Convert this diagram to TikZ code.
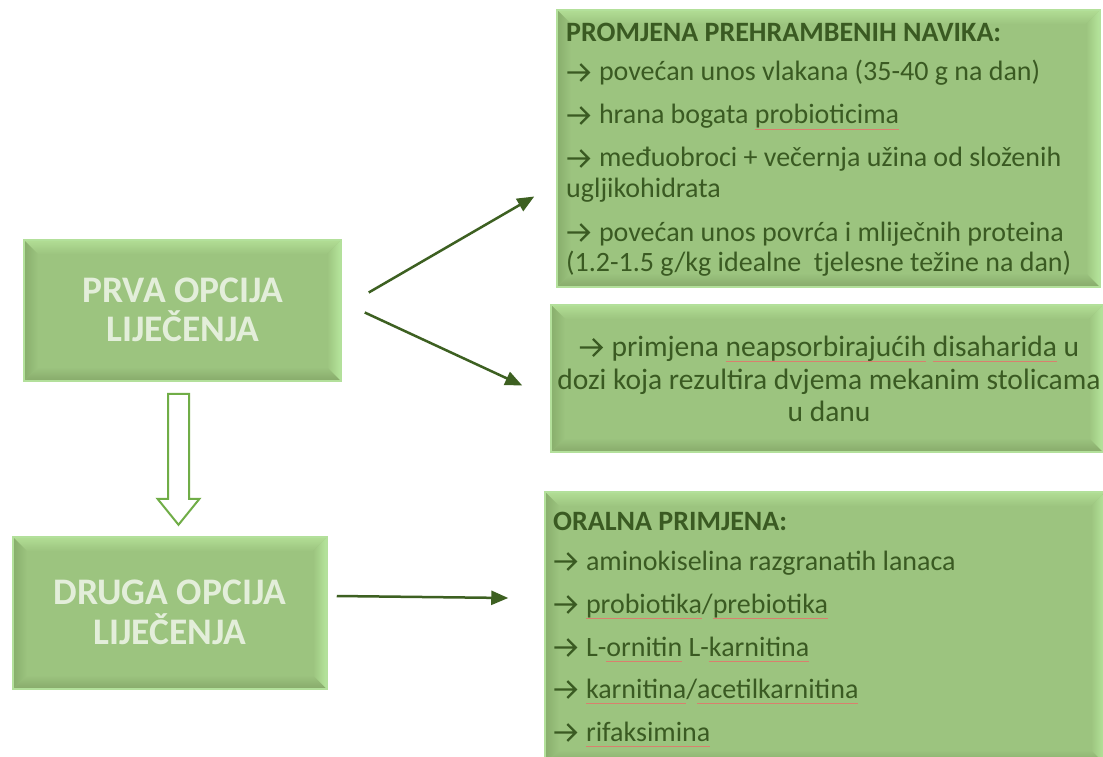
\documentclass[tikz,border=0pt]{standalone}
\usepackage{fontspec}
\setmainfont{Carlito}
\usetikzlibrary{arrows.meta,calc}
\definecolor{basec}{HTML}{9CC47F}
\definecolor{bevT}{HTML}{B2DE95}
\definecolor{bevL}{HTML}{88AE6C}
\definecolor{bevR}{HTML}{B6E69C}
\definecolor{bevB}{HTML}{87AA6A}
\definecolor{edgec}{HTML}{B3E09B}
\definecolor{txtc}{HTML}{3A5A22}
\definecolor{lighttxt}{HTML}{E3EEDA}
\definecolor{arrc}{HTML}{3D6021}
\definecolor{hollowc}{HTML}{70AD47}
\definecolor{splc}{HTML}{D9806E}
\newsavebox\splbox
\newcommand\ar{\tikz[baseline=0pt,x=1pt,y=1pt]{\draw[txtc,line width=2.3pt,line join=miter,line cap=butt] (0,8.5) -- (21.5,8.5) (13,17) -- (21.5,8.5) -- (13,0);}\hspace{9pt}}
\newcommand\spl[1]{\sbox\splbox{#1}\leavevmode\rlap{\textcolor{splc}{\rule[-0.2em]{\wd\splbox}{0.7pt}}}\usebox\splbox}
\begin{document}
\begin{tikzpicture}[x=1pt,y=-1pt,
  bevelbox/.style={draw=edgec, line width=1.5pt, fill=basec, inner sep=0pt,
    path picture={
      \path (path picture bounding box.south west) coordinate (@sw)
            (path picture bounding box.north east) coordinate (@ne)
            (@sw|-@ne) coordinate (@nw) (@ne|-@sw) coordinate (@se);
      \shade[top color=bevT, bottom color=basec] (@nw) -- (@ne) -- ([shift={(-14pt,-14pt)}]@ne) -- ([shift={(14pt,-14pt)}]@nw) -- cycle;
      \shade[bottom color=bevB, top color=basec] (@sw) -- (@se) -- ([shift={(-14pt,14pt)}]@se) -- ([shift={(14pt,14pt)}]@sw) -- cycle;
      \shade[left color=bevL, right color=basec] (@nw) -- (@sw) -- ([shift={(14pt,14pt)}]@sw) -- ([shift={(14pt,-14pt)}]@nw) -- cycle;
      \shade[right color=bevR, left color=basec] (@ne) -- (@se) -- ([shift={(-14pt,14pt)}]@se) -- ([shift={(-14pt,-14pt)}]@ne) -- cycle;
    }},
  rt/.style={anchor=base west, inner sep=0pt, text=txtc, font=\fontsize{28}{30}\selectfont},
  ct/.style={anchor=base, inner sep=0pt, text=txtc, font=\fontsize{29.5}{33}\selectfont},
  lt/.style={anchor=base, inner sep=0pt, text=lighttxt, font=\fontsize{37.5}{39}\selectfont\bfseries},
  conn/.style={draw=arrc, line width=2.5pt, -{Triangle[length=17pt,width=14pt]}},
  hollow/.style={draw=hollowc, line width=2pt, fill=white, line join=miter}
]
\useasboundingbox (0,0) rectangle (1103,757);
\fill[white] (0,0) rectangle (1103,757);

% boxes
\node[bevelbox, minimum width=317pt, minimum height=141pt] (prva) at (182.5,310.5) {};
\node[bevelbox, minimum width=314pt, minimum height=152pt] (druga) at (170,613) {};
\node[bevelbox, minimum width=543pt, minimum height=277pt] (top) at (828.5,148.5) {};
\node[bevelbox, minimum width=552pt, minimum height=147pt] (mid) at (827,378.5) {};
\node[bevelbox, minimum width=560pt, minimum height=272pt] (bot) at (825,628) {};

% left texts
\node[lt] (p1) at (183,302) {PRVA OPCIJA};
\node[lt] (p2) at (183,341) {LIJEČENJA};
\node[lt] (d1) at (170,604) {DRUGA OPCIJA};
\node[lt] (d2) at (170,644) {LIJEČENJA};

% top box text
\node[rt] (t0) at (566,42) {\bfseries PROMJENA PREHRAMBENIH NAVIKA:};
\node[rt] (t1) at (566,81) {\ar povećan unos vlakana (35-40 g na dan)};
\node[rt] (t2) at (566,124) {\ar hrana bogata \spl{probioticima}};
\node[rt] (t3) at (566,167) {\ar međuobroci + večernja užina od složenih};
\node[rt] (t4) at (566,197) {ugljikohidrata};
\node[rt] (t5) at (566,241) {\ar povećan unos povrća i mliječnih proteina};
\node[rt] (t6) at (566,271) {(1.2-1.5 g/kg idealne\ \ tjelesne težine na dan)};

% middle box text
\node[ct] (m1) at (829,356) {\ar primjena \spl{neapsorbirajućih} \spl{disaharida} u};
\node[ct] (m2) at (829,389) {dozi koja rezultira dvjema mekanim stolicama};
\node[ct] (m3) at (829,421) {u danu};

% bottom box text
\node[rt] (b0) at (553,530) {\bfseries ORALNA PRIMJENA:};
\node[rt] (b1) at (553,570) {\ar aminokiselina razgranatih lanaca};
\node[rt] (b2) at (553,613) {\ar \spl{probiotika}/\spl{prebiotika}};
\node[rt] (b3) at (553,656) {\ar L-\spl{ornitin} L-\spl{karnitina}};
\node[rt] (b4) at (553,698) {\ar \spl{karnitina}/\spl{acetilkarnitina}};
\node[rt] (b5) at (553,741) {\ar \spl{rifaksimina}};

% connectors
\coordinate (a1s) at ($(prva.east)+(27,-18)$);
\coordinate (a1e) at ($(top.west)+(-22,48)$);
\coordinate (a2s) at ($(prva.east)+(23,2)$);
\coordinate (a2e) at ($(mid.west)+(-28,7)$);
\coordinate (a3s) at ($(druga.east)+(9,-17)$);
\coordinate (a3e) at ($(bot.west)+(-36,-30)$);
\draw[conn] (a1s) -- (a1e);
\draw[conn] (a2s) -- (a2e);
\draw[conn] (a3s) -- (a3e);

% hollow arrow from prva to druga
\coordinate (h) at ($(prva.south)+(-4,12)$);
\draw[hollow] ($(h)+(-10.5,0)$) -- ($(h)+(-10.5,105)$) -- ($(h)+(-21,105)$) -- ($(h)+(0,131)$)
  -- ($(h)+(21,105)$) -- ($(h)+(10.5,105)$) -- ($(h)+(10.5,0)$) -- cycle;
\end{tikzpicture}
\end{document}
